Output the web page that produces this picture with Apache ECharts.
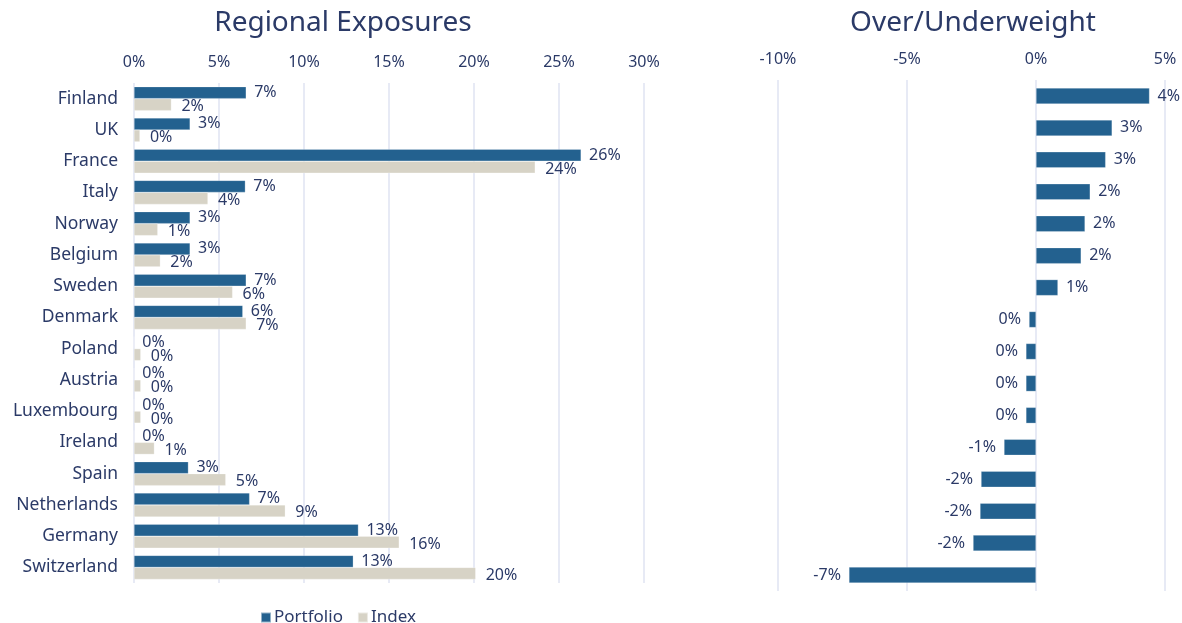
<!DOCTYPE html>
<html>
<head>
<meta charset="utf-8">
<script src="https://cdn.jsdelivr.net/npm/echarts@6/dist/echarts.min.js"></script>
<style>html,body{margin:0;padding:0;background:#fff}#c{width:1182px;height:623px}</style>
</head>
<body>
<div id="c"></div>
<script>
const categories = ['Finland','UK','France','Italy','Norway','Belgium','Sweden','Denmark','Poland','Austria','Luxembourg','Ireland','Spain','Netherlands','Germany','Switzerland'];
const portfolio = [6.6,3.3,26.3,6.55,3.3,3.3,6.6,6.4,0,0,0,0,3.2,6.8,13.2,12.9];
const indexW = [2.2,0.35,23.6,4.35,1.4,1.55,5.8,6.6,0.4,0.4,0.4,1.2,5.4,8.9,15.6,20.1];
const diff = [4.4,2.95,2.7,2.1,1.9,1.75,0.85,-0.27,-0.39,-0.39,-0.39,-1.24,-2.13,-2.17,-2.44,-7.25];
const leftTicks = {min:0, max:30, interval:5};
const rightTicks = {min:-10, max:5, interval:5};

const NAVY = '#2b3a67';
const BLUE = '#23618f';
const BEIGE = '#d7d3c6';
const GRID = '#dfe3f2';
const FONT = 'Noto Sans';
const pct = v => Math.round(v) + '%';

const chart = echarts.init(document.getElementById('c'), null, {renderer:'canvas'});
chart.setOption({
  textStyle:{fontFamily:FONT, color:NAVY},
  title:[
    {text:'Regional Exposures', left:338, top:4, textAlign:'center', textStyle:{fontFamily:FONT, fontSize:28, fontWeight:'normal', color:NAVY}},
    {text:'Over/Underweight', left:968, top:4, textAlign:'center', textStyle:{fontFamily:FONT, fontSize:28, fontWeight:'normal', color:NAVY}}
  ],
  legend:{
    data:['Portfolio','Index'], left:255, top:604, itemWidth:10, itemHeight:10, itemGap:14,
    icon:'rect', textStyle:{fontFamily:FONT, fontSize:17, color:NAVY, padding:[0,0,0,-2]}
  },
  grid:[
    {left:134, width:510, top:83, height:500},
    {left:778, width:387, top:80, height:511}
  ],
  xAxis:[
    {gridIndex:0, type:'value', position:'top', min:leftTicks.min, max:leftTicks.max, interval:leftTicks.interval,
     axisLine:{show:false}, axisTick:{show:false},
     axisLabel:{formatter:v=>v+'%', fontFamily:FONT, fontSize:16, color:NAVY, margin:13},
     splitLine:{show:true, lineStyle:{color:GRID, width:1.5}}},
    {gridIndex:1, type:'value', position:'top', min:rightTicks.min, max:rightTicks.max, interval:rightTicks.interval,
     axisLine:{show:false}, axisTick:{show:false},
     axisLabel:{formatter:v=>v+'%', fontFamily:FONT, fontSize:16, color:NAVY, margin:13},
     splitLine:{show:true, lineStyle:{color:GRID, width:1.5}}}
  ],
  yAxis:[
    {gridIndex:0, type:'category', data:categories, inverse:true,
     axisLine:{show:false}, axisTick:{show:false},
     axisLabel:{fontFamily:FONT, fontSize:17.5, color:NAVY, margin:16}},
    {gridIndex:1, type:'category', data:categories, inverse:true,
     axisLine:{show:false}, axisTick:{show:false}, axisLabel:{show:false}}
  ],
  series:[
    {name:'Portfolio', type:'bar', xAxisIndex:0, yAxisIndex:0, data:portfolio, barWidth:12, barGap:'0%',
     itemStyle:{color:BLUE, borderColor:'rgba(255,255,255,0.5)', borderWidth:0.5},
     label:{show:true, position:'right', distance:8, formatter:p=>pct(p.value), fontFamily:FONT, fontSize:16, color:NAVY, offset:[0,0]}},
    {name:'Index', type:'bar', xAxisIndex:0, yAxisIndex:0, data:indexW, barWidth:12, barGap:'0%',
     itemStyle:{color:BEIGE, borderColor:'rgba(255,255,255,0.5)', borderWidth:0.5},
     label:{show:true, position:'right', distance:10, formatter:p=>pct(p.value), fontFamily:FONT, fontSize:16, color:NAVY, offset:[0,2]}},
    {name:'Diff', type:'bar', xAxisIndex:1, yAxisIndex:1, barWidth:16,
     data:diff.map(v=>({value:v, label:{position: v<0 ? 'left':'right'}})),
     itemStyle:{color:BLUE, borderColor:'rgba(255,255,255,0.5)', borderWidth:0.5},
     label:{show:true, distance:8, formatter:p=>pct(p.value), fontFamily:FONT, fontSize:16, color:NAVY}}
  ]
});
</script>
</body>
</html>
